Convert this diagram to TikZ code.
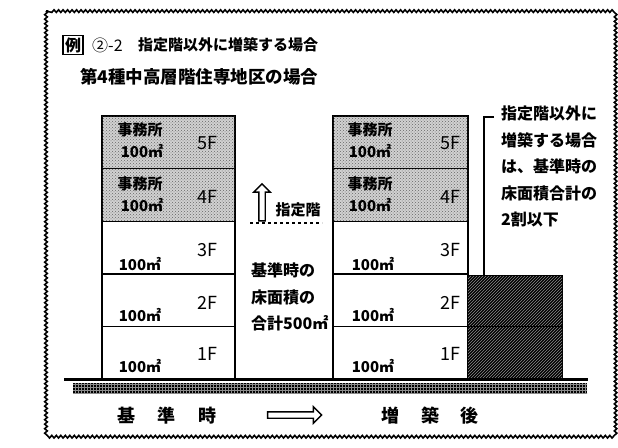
\documentclass[tikz,border=0pt]{standalone}
\usepackage{fontspec}
\setmainfont{Noto Sans CJK JP}
\usetikzlibrary{patterns,decorations.pathmorphing,shapes.arrows}
\begin{document}
\begin{tikzpicture}[x=1pt,y=-1pt,
  floorbox/.style={draw, line width=1.4pt, inner sep=0pt, outer sep=0pt, anchor=north west},
  dotted fill/.style={fill=black!18, postaction={pattern=crosshatch dots, pattern color=black!60}},
  lbl/.style={inner sep=0pt, font=\bfseries\fontsize{15}{15}\selectfont},
  flr/.style={inner sep=0pt, font=\fontsize{18}{18}\selectfont},
  txt/.style={inner sep=0pt, font=\bfseries\fontsize{16}{26.5}\selectfont, align=left, anchor=north west},
  hollow/.style={single arrow, draw, line width=1.4pt, fill=white, inner xsep=0pt, inner ysep=2.5pt, single arrow head extend=5pt},
]
\useasboundingbox (0,0) rectangle (618,447);
% frame
\draw[decorate, decoration={snake, segment length=4.5pt, amplitude=1.3pt}, line width=1.6pt] (46,11) rectangle (613,434);
% titles
\node[draw, line width=1.2pt, inner sep=2pt, font=\bfseries\fontsize{16}{16}\selectfont] (rei) at (73,45) {例};
\node[anchor=west, inner sep=0pt, font=\fontsize{16}{16}\selectfont] (num) at (92,45) {②-2};
\node[anchor=west, inner sep=0pt, font=\bfseries\fontsize{15}{15}\selectfont] (title) at (138,45) {指定階以外に増築する場合};
\node[anchor=west, inner sep=0pt, font=\bfseries\fontsize{17.5}{17.5}\selectfont] (sub) at (80,77) {第4種中高層階住専地区の場合};
% left building
\node[floorbox, dotted fill, minimum width=133pt, minimum height=52.6pt] (L5) at (102,116) {};
\node[floorbox, dotted fill, minimum width=133pt, minimum height=52.6pt] (L4) at (102,168.6) {};
\node[floorbox, fill=white, minimum width=133pt, minimum height=52.6pt] (L3) at (102,221.2) {};
\node[floorbox, fill=white, minimum width=133pt, minimum height=52.6pt] (L2) at (102,273.8) {};
\node[floorbox, fill=white, minimum width=133pt, minimum height=52.6pt] (L1) at (102,326.4) {};
% right building
\node[floorbox, dotted fill, minimum width=135pt, minimum height=52.6pt] (R5) at (333,116) {};
\node[floorbox, dotted fill, minimum width=135pt, minimum height=52.6pt] (R4) at (333,168.6) {};
\node[floorbox, fill=white, minimum width=135pt, minimum height=52.6pt] (R3) at (333,221.2) {};
\node[floorbox, fill=white, minimum width=135pt, minimum height=52.6pt] (R2) at (333,273.8) {};
\node[floorbox, fill=white, minimum width=135pt, minimum height=52.6pt] (R1) at (333,326.4) {};
% extension
\node[floorbox, fill=black, postaction={pattern=north east lines, pattern color=black!45}, minimum width=94pt, minimum height=103pt] (ext) at (468,276) {};
\draw[line width=1.6pt] (ext.west |- R1.north) -- (ext.east |- R1.north);
% labels left
\node[lbl] (l5a) at (140,130) {事務所};
\node[lbl] (l5b) at (142,151) {100㎡};
\node[flr] (l5f) at (207,143) {5F};
\node[lbl] (l4a) at (140,184) {事務所};
\node[lbl] (l4b) at (142,205) {100㎡};
\node[flr] (l4f) at (207,197) {4F};
\node[lbl] (l3b) at (140,264) {100㎡};
\node[flr] (l3f) at (207,250) {3F};
\node[lbl] (l2b) at (140,315) {100㎡};
\node[flr] (l2f) at (207,303) {2F};
\node[lbl] (l1b) at (140,366) {100㎡};
\node[flr] (l1f) at (207,354) {1F};
% labels right
\node[lbl] (r5a) at (370,130) {事務所};
\node[lbl] (r5b) at (370,151) {100㎡};
\node[flr] (r5f) at (450,143) {5F};
\node[lbl] (r4a) at (370,184) {事務所};
\node[lbl] (r4b) at (370,205) {100㎡};
\node[flr] (r4f) at (450,197) {4F};
\node[lbl] (r3b) at (373,264) {100㎡};
\node[flr] (r3f) at (450,250) {3F};
\node[lbl] (r2b) at (373,315) {100㎡};
\node[flr] (r2f) at (450,303) {2F};
\node[lbl] (r1b) at (373,366) {100㎡};
\node[flr] (r1f) at (450,354) {1F};
% designated floor marker
\node[hollow, rotate=90, minimum height=37pt] (up) at (262,204) {};
\coordinate (d1) at (250,223);
\coordinate (d2) at (322,223);
\draw[dashed, line width=1.1pt] (d1) -- (d2);
\node[inner sep=0pt, font=\bfseries\fontsize{15}{15}\selectfont] (shitei) at (298,210) {指定階};
% middle text
\node[txt] (mid) at (251,263) {基準時の\\床面積の\\合計500㎡};
% note
\coordinate (bt) at (494,117);
\coordinate (bc) at (484,117);
\draw[line width=1.2pt] (bt) -- (bc) -- (bc |- ext.north);
\node[txt] (note) at (501,106) {指定階以外に\\増築する場合\\は、基準時の\\床面積合計の\\2割以下};
% ground
\coordinate (g1) at (64,379.5);
\coordinate (g2) at (588,379.5);
\draw[line width=2.8pt] (g1) -- (g2);
\node[anchor=north west, inner sep=0pt, outer sep=0pt, fill=black, postaction={pattern=grid, pattern color=black!45}, minimum width=514pt, minimum height=10pt] (strip) at (73,383) {};
% bottom
\node[inner sep=0pt, font=\bfseries\fontsize{18}{18}\selectfont] (before) at (167,416) {基\hspace{23pt}準\hspace{23pt}時};
\node[hollow, minimum height=54pt] (arr) at (293,415) {};
\node[inner sep=0pt, font=\bfseries\fontsize{18}{18}\selectfont] (after) at (430,416) {増\hspace{22pt}築\hspace{22pt}後};
\end{tikzpicture}
\end{document}
